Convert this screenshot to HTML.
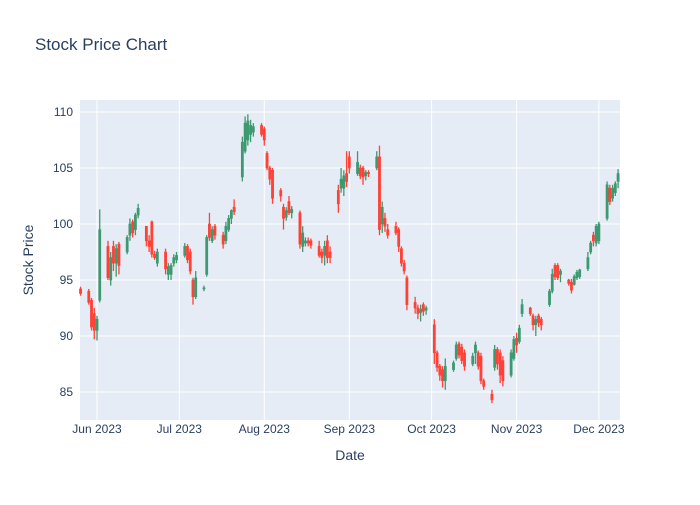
<!DOCTYPE html>
<html><head><meta charset="utf-8"><style>
body{margin:0;background:#fff;font-family:"Liberation Sans",sans-serif;}
svg text{font-family:"Liberation Sans",sans-serif;}
</style></head><body>
<svg id="chart" width="700" height="500" xmlns="http://www.w3.org/2000/svg">
<rect width="700" height="500" fill="#fff"/>
<text x="35" y="50" font-size="17" fill="#2a3f5f">Stock Price Chart</text>
<rect x="80" y="100" width="540" height="320" fill="#E5ECF6"/>
<g id="grid"></g><g id="candles"></g><g id="axes"></g>
<text x="350" y="460" font-size="14" fill="#2a3f5f" text-anchor="middle">Date</text>
<text x="33" y="260" font-size="14" fill="#2a3f5f" text-anchor="middle" transform="rotate(-90 33 260)">Stock Price</text>
</svg>
<script>
const startDate = "2023-05-26";
const yTicks = [85, 90, 95, 100, 105, 110];
const xTickLabels = ["Jun 2023","Jul 2023","Aug 2023","Sep 2023","Oct 2023","Nov 2023","Dec 2023"];
const xTickDates = ["2023-06-01","2023-07-01","2023-08-01","2023-09-01","2023-10-01","2023-11-01","2023-12-01"];
const open = [94.2,
94,93.2,92,90.5,93.2, 98,95,98,96.5,98.2, 97.5,99,100.2,99.5,100.8, 99.8,98.5,100.2,97.3,96.5,
97.5,95.5,95.5,96.5,96.8, 97.2,98,97.5,95,93.5, 94.2,95.5,100,98.5,99.8, 99,98.5,99.5,100.5,101.5,
104.2,106.5,107.5,108,108.2, 108.8,108.5,106.3,105,104.8, 103,101.5,100.6,102,101, 101,98,98.3,98.5,98.5,
98,97.5,97.2,98.5,97.5, 103,103.2,103.2,104.5,106, 104.5,105,105,104.3,104.6, 105,106,100,100.5,99.5,
99.8,99.5,97.8,96.5,95.2, 93,92.5,92.1,92.8,92.3, 91,88.5,87.3,87,86, 87,88,89.3,89,88.5,
87.5,88.5,88.5,88.2,86, 84.8,87.2,88.8,88.5,87.8, 86.5,88,89.8,89.5,92, 92.5,91.8,91,91.8,91.5,
92.8,94,96.3,96.3,95.5, 95,94.8,94.6,95.2,95.3, 96,97.5,99,98.3,98.5, 100.5,103.2,102.3,102.8,103.8];
const high = [94.4,
94.2,93.4,92.5,91.8,101.3, 98.5,97.5,98.5,98.2,98.4, 99,100.5,100.4,101,101.8, 99.8,99,100.3,97.6,97.8,
97.8,96.5,96.5,97.3,97.5, 98.3,98.2,97.8,95.2,95.8, 94.5,99,101,99.8,100, 99.3,100.2,100.8,101.3,102.2,
107.8,109.6,109.8,109.3,109, 109,108.7,106.5,105.2,105, 103.2,101.8,101.5,102.5,101.6, 101.2,99.8,98.8,98.8,98.7,
98.5,97.8,98.5,99,98, 103.5,105,104.8,106.5,106.5, 106.5,105.3,105.2,104.8,104.8, 106.5,107,102,101,100,
100.2,99.7,98,96.8,95.4, 93.5,92.8,92.8,93,92.7, 91.5,88.7,87.5,87.3,88, 87.8,89.5,89.5,89.3,88.8,
88.5,89.5,88.7,88.5,86.2, 85.2,89.2,89,88.8,88.2, 88.8,90,90.3,91,93.3, 92.6,92,91.8,92,91.7,
94.2,96,96.5,96.5,96, 95.1,95.1,95.5,95.9,96, 97.5,98.5,99.3,100,100.2, 103.8,103.5,103.5,103.8,104.9];
const low = [93.6,
92.8,90.5,89.7,89.6,93, 95,94.5,95.8,95.3,95.5, 97.3,98.5,98.8,99,100.5, 98,97.5,97,96.8,96.2,
95.5,95,95,96.2,96.5, 97,96.5,95.5,92.8,93.3, 94,95.3,98.5,98.3,98.6, 97.8,98.2,99.3,100,100.8,
103.8,106.3,107,107.3,107.8, 107.8,107,104.8,103.5,101.8, 102,99.5,100.3,100.8,100.5, 97.8,97.5,98,98,97.8,
97,96.5,96.3,96.5,96.5, 101,102.8,102.5,103.3,104.5, 104.3,104,103.5,103.9,104.2, 104.8,99,99.2,99.3,98.7,
99,97.5,96.2,95.5,92.3, 92,91.5,91.3,91.8,91.9, 87.5,86.8,86,85.4,85.2, 86.8,87.8,88,87.5,86.9,
87.3,87.5,87,85.7,85.2, 84,86.9,87,85.8,85.5, 86.3,87.8,88.5,89.3,91.7, 91.8,90.5,90,90.8,90.5,
92.6,93.8,95,95,94.8, 94.5,93.8,94.5,95,95.1, 95.8,97.3,98,98,98.2, 100.3,101.7,102,102.5,103.2];
const close = [93.8,
93,90.8,90.5,91.5,99.5, 95.2,97,96.5,97.8,96.3, 98.8,100,99.2,100.8,101.4, 98.5,98,97.3,97,97.5,
96,96.2,96.3,97,97.2, 98,96.8,95.8,93.5,95.2, 94.3,98.8,98.8,99.5,99, 98.2,99.8,100.5,101.2,101.1,
107.3,109,109.2,108.8,108.7, 108,107.5,105,104,102.3, 102.5,100.5,101.2,101,101.3, 98.2,99.2,98.5,98.3,98.1,
97.2,97,98,97,97, 101.8,104,104.3,103.8,105, 105.5,104.3,104.2,104.6,104.5, 106,99.5,101.5,99.8,99,
99.2,98,96.5,95.8,92.8, 92.5,92,92.4,92.2,92.5, 88.5,87.2,86.5,86,87.3, 87.6,89.2,88.3,87.8,87.3,
88.2,89.2,87.3,86,85.5, 84.3,88.8,87.5,86.5,86, 88.5,89.7,89.2,90.7,92.8, 92,91,91.5,91.2,91,
94,95.5,95.3,95.2,95.8, 94.7,94.1,95.3,95.7,95.9, 97,98.3,98.5,99.8,100, 103.5,102,103.2,103.6,104.5];

const NS='http://www.w3.org/2000/svg';
const X0=80,X1=620,Y0=100,Y1=420;
const dayMs=86400000, ref=Date.UTC(2023,5,1);
const dMin=-6.2, dMax=190.7, vMin=83.3, vMax=111.1;
function dayOf(s){const p=s.split('-');return (Date.UTC(+p[0],p[1]-1,+p[2])-ref)/dayMs;}
function xS(d){return X0+(d-dMin)/(dMax-dMin)*(X1-X0);}
function yS(v){return 112+(110-v)*11.2;}
function mk(tag,attrs,parent){const e=document.createElementNS(NS,tag);for(const k in attrs)e.setAttribute(k,attrs[k]);parent.appendChild(e);return e;}
// trading dates (business days)
const dates=[];{let t=dayOf(startDate);while(dates.length<close.length){const wd=new Date(ref+t*dayMs).getUTCDay();if(wd!==0&&wd!==6)dates.push(t);t++;}}
const grid=document.getElementById('grid'),axes=document.getElementById('axes'),cg=document.getElementById('candles');
yTicks.forEach(v=>{
 const l=mk('line',{x1:X0,x2:X1,y1:yS(v),y2:yS(v),stroke:'#fff','stroke-width':1},grid);
 
 
 const t=mk('text',{x:73,y:yS(v)+4,'font-size':12,fill:'#2a3f5f','text-anchor':'end'},axes);
 t.textContent=v;
 
 
});
xTickDates.forEach((s,i)=>{
 const x=xS(dayOf(s));
 const l=mk('line',{x1:x,x2:x,y1:Y0,y2:Y1,stroke:'#fff','stroke-width':1},grid);
 
 
 const t=mk('text',{x:x,y:433,'font-size':12,fill:'#2a3f5f','text-anchor':'middle'},axes);
 t.textContent=xTickLabels[i];
 
 
});
close.forEach((c,i)=>{
 const o=open[i],x=xS(dates[i]);const up=c>=o;const col=up?'#3D9970':'#FF4136';
 const g=mk('g',{},cg);
 
 
 mk('line',{x1:x,x2:x,y1:yS(high[i]),y2:yS(low[i]),stroke:col,'stroke-width':1.3},g);
 const top=yS(Math.max(o,c)),bot=yS(Math.min(o,c));
 mk('rect',{x:x-1.1,y:top,width:2.2,height:Math.max(bot-top,1),fill:col,stroke:col,'stroke-width':0.6},g);
});
</script>
</body></html>
